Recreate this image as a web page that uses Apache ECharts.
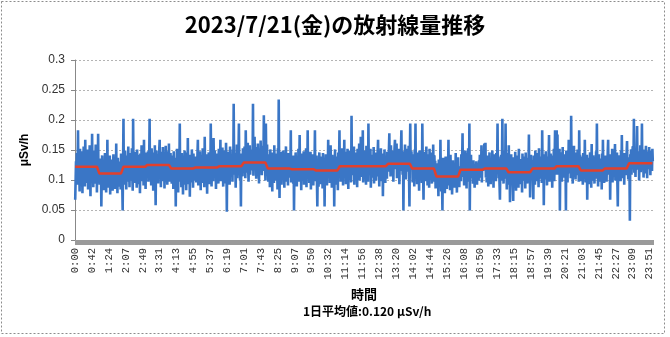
<!DOCTYPE html>
<html>
<head>
<meta charset="utf-8">
<script src="https://cdn.jsdelivr.net/npm/echarts@6/dist/echarts.min.js"></script>
<style>
html,body{margin:0;padding:0;background:#fff;}
#chart{width:670px;height:337px;}
</style>
</head>
<body>
<div id="chart"></div>
<script>
// Axis tick labels shown under the x axis (every 42nd data point)
const tickLabels = ['0:00','0:42','1:24','2:07','2:49','3:31','4:13','4:55','5:37','6:19','7:01','7:43','8:25','9:07','9:50','10:32','11:14','11:56','12:38','13:20','14:02','14:44','15:26','16:08','16:50','17:33','18:15','18:57','19:39','20:21','21:03','21:45','22:27','23:09','23:51'];
const pointsPerTick = 42;

// Hourly average dose rate (red step line), μSv/h, hours 0..23
const hourlyAvg = [0.122,0.111,0.122,0.125,0.119,0.121,0.123,0.129,0.119,0.118,0.116,0.123,0.123,0.127,0.119,0.106,0.117,0.119,0.113,0.119,0.123,0.116,0.119,0.128];

const dailyAverage = '0.120';

// Minute-by-minute dose rate, μSv/h (one row per hour)
const doseRate = [
0.067,0.098,0.131,0.112,0.145,0.092,0.126,0.183,0.104,0.138,0.117,0.081,0.152,0.109,0.133,0.096,0.148,0.121,0.078,0.139,0.113,0.156,0.101,0.127,0.089,0.167,0.118,0.142,0.095,0.131,0.108,0.151,0.084,0.124,0.137,0.099,0.158,0.115,0.073,0.141,0.122,0.103,0.177,0.110,0.134,0.088,0.149,0.119,0.136,0.094,0.128,0.159,0.107,0.143,0.079,0.125,0.113,0.177,0.097,0.132,
0.118,0.092,0.136,0.104,0.127,0.056,0.109,0.141,0.088,0.121,0.099,0.132,0.083,0.114,0.145,0.097,0.123,0.079,0.138,0.106,0.167,0.094,0.118,0.087,0.129,0.102,0.141,0.076,0.115,0.125,0.091,0.134,0.108,0.082,0.119,0.143,0.096,0.111,0.128,0.085,0.117,0.101,0.161,0.093,0.124,0.078,0.137,0.106,0.113,0.089,0.131,0.098,0.121,0.084,0.144,0.103,0.115,0.092,0.049,0.126,
0.202,0.108,0.135,0.092,0.149,0.117,0.126,0.084,0.141,0.103,0.131,0.119,0.156,0.097,0.124,0.088,0.145,0.112,0.137,0.099,0.128,0.153,0.106,0.082,0.202,0.114,0.139,0.095,0.122,0.147,0.101,0.133,0.118,0.087,0.151,0.109,0.127,0.142,0.093,0.136,0.115,0.078,0.144,0.121,0.105,0.158,0.098,0.129,0.112,0.138,0.091,0.167,0.107,0.132,0.119,0.085,0.146,0.103,0.125,
0.134,0.112,0.148,0.097,0.127,0.139,0.202,0.106,0.142,0.118,0.091,0.153,0.124,0.109,0.137,0.082,0.146,0.121,0.099,0.158,0.113,0.058,0.131,0.149,0.104,0.126,0.143,0.094,0.138,0.115,0.152,0.167,0.102,0.129,0.088,0.147,0.119,0.136,0.098,0.155,0.111,0.128,0.144,0.086,0.133,0.121,0.157,0.103,0.139,0.117,0.092,0.148,0.125,0.108,0.161,0.097,0.134,0.122,0.145,0.101,
0.126,0.094,0.141,0.109,0.132,0.085,0.148,0.116,0.103,0.137,0.121,0.056,0.129,0.098,0.152,0.111,0.134,0.079,0.143,0.107,0.118,0.194,0.097,0.136,0.122,0.088,0.145,0.113,0.131,0.076,0.139,0.105,0.125,0.149,0.092,0.117,0.135,0.083,0.128,0.146,0.101,0.170,0.114,0.093,0.138,0.124,0.072,0.142,0.109,0.133,0.096,0.151,0.119,0.127,0.087,0.144,0.112,0.136,0.099,0.123,
0.118,0.139,0.096,0.127,0.108,0.144,0.167,0.091,0.132,0.115,0.102,0.148,0.124,0.083,0.137,0.111,0.129,0.095,0.153,0.119,0.106,0.134,0.088,0.172,0.114,0.126,0.099,0.143,0.121,0.077,0.138,0.109,0.131,0.146,0.093,0.124,0.117,0.104,0.194,0.128,0.089,0.141,0.113,0.135,0.098,0.170,0.122,0.107,0.149,0.116,0.131,0.085,0.144,0.119,0.103,0.137,0.125,0.094,0.152,0.112,
0.135,0.112,0.167,0.098,0.129,0.143,0.106,0.154,0.121,0.089,0.138,0.117,0.149,0.094,0.131,0.108,0.162,0.124,0.047,0.136,0.115,0.147,0.101,0.128,0.139,0.092,0.156,0.119,0.133,0.105,0.142,0.126,0.097,0.151,0.113,0.227,0.134,0.109,0.145,0.122,0.087,0.138,0.116,0.159,0.103,0.131,0.124,0.148,0.194,0.111,0.135,0.099,0.127,0.056,0.144,0.118,0.132,0.106,0.153,0.125,
0.141,0.118,0.156,0.127,0.103,0.183,0.134,0.149,0.112,0.138,0.162,0.121,0.097,0.145,0.131,0.158,0.109,0.136,0.124,0.151,0.116,0.142,0.129,0.227,0.107,0.147,0.133,0.172,0.119,0.139,0.155,0.102,0.128,0.146,0.125,0.161,0.113,0.137,0.094,0.152,0.131,0.118,0.166,0.124,0.143,0.108,0.139,0.157,0.121,0.135,0.208,0.115,0.148,0.127,0.099,0.194,0.136,0.123,0.159,0.112,
0.124,0.097,0.143,0.112,0.135,0.088,0.151,0.118,0.106,0.139,0.127,0.081,0.146,0.113,0.132,0.095,0.158,0.109,0.121,0.137,0.099,0.144,0.116,0.128,0.084,0.153,0.111,0.234,0.123,0.070,0.138,0.105,0.147,0.119,0.092,0.133,0.126,0.102,0.149,0.115,0.131,0.087,0.142,0.108,0.124,0.156,0.097,0.135,0.113,0.129,0.091,0.145,0.117,0.138,0.104,0.127,0.119,0.183,0.096,0.132,
0.136,0.108,0.125,0.094,0.141,0.049,0.117,0.132,0.101,0.146,0.113,0.128,0.089,0.139,0.121,0.106,0.152,0.097,0.124,0.175,0.109,0.135,0.118,0.083,0.144,0.126,0.099,0.131,0.114,0.148,0.092,0.127,0.138,0.105,0.119,0.153,0.088,0.133,0.116,0.183,0.102,0.129,0.141,0.095,0.122,0.111,0.147,0.084,0.136,0.118,0.107,0.143,0.125,0.091,0.134,0.113,0.126,0.183,0.098,
0.129,0.104,0.141,0.097,0.056,0.123,0.135,0.089,0.118,0.146,0.108,0.127,0.093,0.139,0.114,0.101,0.132,0.086,0.145,0.119,0.106,0.137,0.056,0.124,0.098,0.143,0.112,0.129,0.091,0.135,0.117,0.167,0.103,0.126,0.148,0.095,0.121,0.158,0.109,0.133,0.087,0.142,0.114,0.128,0.099,0.137,0.056,0.118,0.151,0.105,0.124,0.092,0.139,0.111,0.127,0.083,0.146,0.115,0.131,0.183,
0.112,0.138,0.097,0.145,0.121,0.106,0.153,0.129,0.091,0.136,0.118,0.167,0.104,0.131,0.147,0.093,0.126,0.141,0.109,0.152,0.122,0.085,0.138,0.115,0.149,0.101,0.133,0.127,0.096,0.207,0.119,0.143,0.108,0.135,0.124,0.156,0.092,0.131,0.114,0.146,0.103,0.128,0.139,0.088,0.152,0.117,0.134,0.122,0.161,0.099,0.137,0.113,0.172,0.126,0.105,0.144,0.118,0.183,0.096,0.131,
0.126,0.101,0.149,0.118,0.134,0.092,0.157,0.113,0.138,0.124,0.097,0.194,0.121,0.143,0.108,0.131,0.152,0.087,0.136,0.115,0.142,0.104,0.128,0.119,0.155,0.094,0.133,0.111,0.146,0.125,0.099,0.137,0.121,0.106,0.148,0.167,0.116,0.132,0.089,0.141,0.127,0.112,0.153,0.098,0.135,0.119,0.144,0.073,0.129,0.138,0.107,0.151,0.122,0.095,0.139,0.117,0.133,0.102,0.147,0.124,
0.137,0.114,0.152,0.178,0.121,0.143,0.106,0.158,0.129,0.135,0.112,0.149,0.126,0.097,0.141,0.132,0.155,0.167,0.118,0.138,0.124,0.161,0.103,0.146,0.133,0.119,0.152,0.127,0.093,0.144,0.136,0.115,0.157,0.183,0.122,0.139,0.109,0.148,0.049,0.131,0.143,0.118,0.159,0.126,0.101,0.137,0.152,0.124,0.114,0.146,0.131,0.157,0.108,0.056,0.142,0.194,0.123,0.136,0.148,0.117,
0.128,0.096,0.143,0.112,0.135,0.089,0.151,0.117,0.194,0.104,0.138,0.121,0.093,0.146,0.109,0.132,0.124,0.082,0.149,0.115,0.127,0.101,0.141,0.118,0.095,0.194,0.133,0.108,0.067,0.139,0.122,0.147,0.098,0.131,0.114,0.156,0.105,0.126,0.091,0.143,0.117,0.135,0.087,0.152,0.111,0.129,0.102,0.146,0.119,0.094,0.137,0.108,0.159,0.123,0.097,0.141,0.115,0.132,0.086,0.128,
0.109,0.087,0.128,0.095,0.117,0.073,0.134,0.101,0.122,0.089,0.167,0.112,0.081,0.126,0.098,0.049,0.118,0.137,0.092,0.106,0.124,0.078,0.113,0.139,0.096,0.108,0.085,0.131,0.102,0.119,0.167,0.091,0.114,0.127,0.083,0.142,0.105,0.098,0.121,0.076,0.116,0.133,0.094,0.109,0.128,0.087,0.119,0.101,0.145,0.093,0.112,0.079,0.126,0.104,0.138,0.097,0.115,0.088,0.123,0.107,
0.121,0.098,0.143,0.112,0.132,0.178,0.105,0.139,0.117,0.091,0.136,0.114,0.149,0.102,0.127,0.086,0.145,0.119,0.108,0.153,0.124,0.097,0.194,0.049,0.131,0.116,0.142,0.103,0.128,0.111,0.122,0.094,0.133,0.108,0.119,0.087,0.126,0.113,0.101,0.131,0.116,0.092,0.128,0.107,0.121,0.099,0.133,0.118,0.142,0.104,0.137,0.112,0.158,0.096,0.129,0.147,0.115,0.138,0.124,0.161,
0.157,0.118,0.162,0.104,0.133,0.096,0.141,0.112,0.127,0.089,0.138,0.115,0.146,0.101,0.124,0.093,0.135,0.121,0.108,0.149,0.113,0.131,0.087,0.143,0.119,0.105,0.137,0.126,0.098,0.145,0.111,0.128,0.194,0.116,0.139,0.103,0.122,0.091,0.067,0.134,0.125,0.142,0.099,0.131,0.202,0.114,0.127,0.094,0.148,0.109,0.136,0.118,0.194,0.102,0.129,0.084,0.145,0.116,0.121,
0.106,0.158,0.092,0.121,0.063,0.134,0.111,0.143,0.098,0.126,0.117,0.089,0.065,0.138,0.104,0.129,0.095,0.147,0.113,0.082,0.124,0.101,0.141,0.108,0.119,0.087,0.152,0.097,0.128,0.114,0.093,0.135,0.106,0.118,0.079,0.144,0.112,0.127,0.099,0.139,0.109,0.123,0.086,0.146,0.103,0.131,0.116,0.094,0.137,0.108,0.125,0.176,0.097,0.132,0.071,0.119,0.142,0.101,0.128,0.115,
0.133,0.104,0.068,0.141,0.117,0.126,0.092,0.149,0.113,0.135,0.098,0.127,0.145,0.109,0.121,0.088,0.153,0.116,0.131,0.102,0.139,0.114,0.126,0.095,0.183,0.122,0.107,0.143,0.058,0.129,0.118,0.137,0.101,0.148,0.112,0.125,0.091,0.139,0.121,0.106,0.134,0.175,0.097,0.128,0.116,0.144,0.103,0.131,0.119,0.087,0.141,0.113,0.126,0.152,0.098,0.135,0.183,0.109,0.122,0.147,
0.183,0.124,0.176,0.109,0.141,0.118,0.135,0.152,0.049,0.129,0.146,0.113,0.138,0.097,0.127,0.155,0.104,0.132,0.119,0.143,0.108,0.136,0.125,0.049,0.149,0.117,0.131,0.096,0.142,0.128,0.167,0.111,0.137,0.122,0.148,0.103,0.207,0.126,0.139,0.115,0.094,0.143,0.129,0.157,0.112,0.134,0.121,0.101,0.146,0.118,0.132,0.108,0.151,0.124,0.139,0.097,0.183,0.127,0.142,0.113,
0.121,0.098,0.139,0.107,0.128,0.092,0.145,0.113,0.131,0.104,0.167,0.119,0.096,0.134,0.111,0.142,0.067,0.126,0.101,0.137,0.115,0.093,0.129,0.146,0.108,0.122,0.087,0.160,0.118,0.133,0.099,0.141,0.112,0.125,0.094,0.138,0.106,0.119,0.148,0.102,0.194,0.116,0.131,0.089,0.127,0.143,0.105,0.121,0.097,0.136,0.113,0.128,0.084,0.144,0.109,0.167,0.118,0.132,0.095,0.124,
0.126,0.103,0.141,0.115,0.097,0.134,0.122,0.148,0.167,0.109,0.131,0.118,0.143,0.067,0.125,0.102,0.139,0.113,0.152,0.096,0.128,0.117,0.144,0.105,0.132,0.160,0.099,0.121,0.137,0.111,0.146,0.094,0.056,0.129,0.118,0.141,0.107,0.134,0.123,0.098,0.149,0.114,0.175,0.126,0.103,0.138,0.119,0.131,0.092,0.145,0.112,0.136,0.124,0.108,0.147,0.165,0.116,0.129,0.101,0.138,
0.136,0.115,0.032,0.143,0.124,0.151,0.109,0.138,0.127,0.156,0.118,0.134,0.202,0.112,0.147,0.129,0.105,0.141,0.122,0.153,0.190,0.117,0.139,0.126,0.148,0.099,0.135,0.121,0.158,0.113,0.142,0.128,0.194,0.116,0.137,0.151,0.104,0.132,0.124,0.146,0.111,0.139,0.157,0.121,0.134,0.103,0.148,0.127,0.141,0.118,0.155,0.122,0.137,0.108,0.149,0.126,0.143,0.115,0.152,0.131
];

// Category (time) for every data point, derived from the tick labels
const categories = doseRate.map(function (v, j) {
  const k = Math.floor(j / pointsPerTick);
  const p = tickLabels[k].split(':');
  const t = Number(p[0]) * 60 + Number(p[1]) + (j - k * pointsPerTick);
  return Math.floor(t / 60) + ':' + String(t % 60).padStart(2, '0');
});
const hourlySeries = categories.map(function (c) { return hourlyAvg[parseInt(c, 10)]; });

const chart = echarts.init(document.getElementById('chart'), null, { renderer: 'canvas' });
chart.setOption({
  animation: false,
  backgroundColor: '#ffffff',
  title: {
    text: '2023/7/21(金)の放射線量推移',
    left: 'center',
    top: 9,
    textStyle: { fontFamily: 'Noto Sans CJK JP', fontSize: 22, fontWeight: 'bold', color: '#000' }
  },
  grid: { left: 75, right: 17, top: 60, bottom: 97, containLabel: false },
  xAxis: {
    type: 'category',
    data: categories,
    boundaryGap: true,
    name: '時間',
    nameLocation: 'middle',
    nameGap: 44,
    nameTextStyle: { fontFamily: 'Noto Sans CJK JP', fontSize: 13, fontWeight: 'bold', color: '#000' },
    axisLine: { lineStyle: { color: '#888888', width: 1 } },
    axisTick: { show: true, interval: 0, length: 5, lineStyle: { color: '#9a9a9a', width: 1 } },
    axisLabel: {
      interval: pointsPerTick - 1,
      rotate: 90,
      margin: 8,
      fontFamily: 'Liberation Mono',
      fontSize: 10.5,
      color: '#333333'
    },
    splitLine: { show: false }
  },
  yAxis: {
    type: 'value',
    min: 0,
    max: 0.3,
    interval: 0.05,
    name: 'μSv/h',
    nameLocation: 'middle',
    nameGap: 35,
    nameTextStyle: { fontFamily: 'Liberation Sans', fontSize: 12, fontWeight: 'bold', color: '#000' },
    axisLine: { show: true, lineStyle: { color: '#888888' } },
    axisTick: { show: true, length: 4, lineStyle: { color: '#888888' } },
    axisLabel: { margin: 10, fontFamily: 'Liberation Sans', fontSize: 12, color: '#333333' },
    splitLine: { show: true, lineStyle: { color: '#b4b4b4', type: [2, 2], width: 1 } }
  },
  graphic: [
    {
      type: 'rect',
      shape: { x: 1.5, y: 1.5, width: 663, height: 332 },
      style: { fill: 'none', stroke: '#8c8c8c', lineWidth: 1, lineDash: [2, 2] },
      silent: true
    },
    {
      type: 'text',
      left: 303,
      top: 305,
      style: {
        text: '1日平均値:' + dailyAverage + ' μSv/h',
        fontFamily: 'Noto Sans CJK JP',
        fontSize: 12,
        fontWeight: 'bold',
        fill: '#000'
      }
    }
  ],
  series: [
    {
      name: '線量率',
      type: 'line',
      data: doseRate,
      showSymbol: false,
      symbol: 'none',
      lineStyle: { color: '#3a76c6', width: 2.6 },
      z: 2
    },
    {
      name: '1時間平均',
      type: 'line',
      data: hourlySeries,
      showSymbol: false,
      symbol: 'none',
      lineStyle: { color: '#e2402c', width: 2.5 },
      z: 3
    }
  ]
});
</script>
</body>
</html>
